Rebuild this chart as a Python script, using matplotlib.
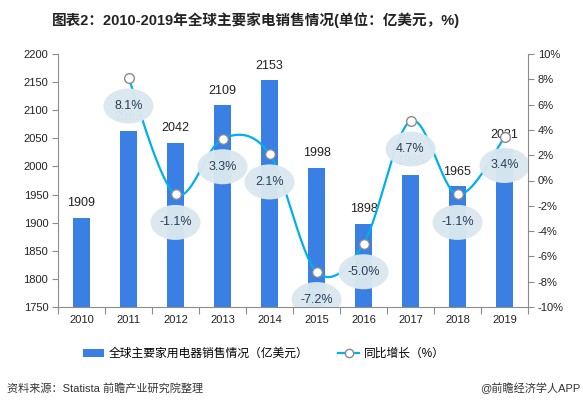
import numpy as np
import matplotlib
matplotlib.use("Agg")
import matplotlib.pyplot as plt
from matplotlib.patches import Ellipse, Patch
from matplotlib.lines import Line2D

plt.rcParams['font.family'] = ['Liberation Sans', 'Noto Sans CJK SC', 'DejaVu Sans']

years = ['2010', '2011', '2012', '2013', '2014', '2015', '2016', '2017', '2018', '2019']
sales = [1909, 2063, 2042, 2109, 2153, 1998, 1898, 1985, 1965, 2031]
growth_years = ['2011', '2012', '2013', '2014', '2015', '2016', '2017', '2018', '2019']
growth = [8.1, -1.1, 3.3, 2.1, -7.2, -5.0, 4.7, -1.1, 3.4]
left_ticks = list(range(1750, 2201, 50))
right_ticks = list(range(-10, 11, 2))

title = '图表2：2010-2019年全球主要家电销售情况(单位：亿美元，%)'
bar_name = '全球主要家用电器销售情况（亿美元）'
line_name = '同比增长（%）'
source = '资料来源：Statista 前瞻产业研究院整理'
credit = '@前瞻经济学人APP'

BAR_C = '#3a80e4'
LINE_C = '#00aff0'
ELL_C = '#dae8f0'
SPINE_C = '#8c8c8c'

fig = plt.figure(figsize=(5.83, 4.08), dpi=100)
ax = fig.add_axes([58/583, 1-307/408, 470/583, 253/408])
ax2 = ax.twinx()

x = np.arange(len(years))
bars = ax.bar(x, sales, width=0.37, color=BAR_C, zorder=2)
ax.set_ylim(1750, 2200)
ax.set_xlim(-0.5, len(years)-0.5)
ax.set_yticks(left_ticks)
ax.set_yticklabels([str(v) for v in left_ticks], fontsize=8, color='#222222')
ax.set_xticks(np.arange(-0.5, len(years), 1.0))
ax.set_xticklabels([])
ax.set_xticks(x, minor=True)
ax.set_xticklabels(years, minor=True, fontsize=8, color='#222222')
ax.tick_params(axis='x', which='major', length=5, color=SPINE_C, direction='out')
ax.tick_params(axis='x', which='minor', length=0, pad=6)
ax.tick_params(axis='y', length=4, color=SPINE_C, direction='out', pad=3)
for s in ['top', 'right']:
    ax.spines[s].set_visible(False)
for s in ['left', 'bottom']:
    ax.spines[s].set_color(SPINE_C)

for xi, v in zip(x, sales):
    ax.annotate(str(v), (xi, v), xytext=(0, 6), textcoords='offset points',
                ha='center', va='bottom', fontsize=9, color='#222222', zorder=3)

ax2.set_ylim(-10, 10)
ax2.set_yticks(right_ticks)
ax2.set_yticklabels([f'{v}%' for v in right_ticks], fontsize=8, color='#222222')
ax2.tick_params(axis='y', length=4, color=SPINE_C, direction='out', pad=3)
for s in ['top', 'left', 'bottom']:
    ax2.spines[s].set_visible(False)
ax2.spines['right'].set_color(SPINE_C)

gx = np.array([years.index(y) for y in growth_years], dtype=float)
gy = np.array(growth, dtype=float)

# Catmull-Rom smoothing for drawing
def catmull(px, py, n=30):
    P = np.column_stack([px, py])
    P = np.vstack([P[0], P, P[-1]])
    out = []
    for i in range(1, len(P)-2):
        p0, p1, p2, p3 = P[i-1], P[i], P[i+1], P[i+2]
        t = np.linspace(0, 1, n)[:, None]
        seg = 0.5*((2*p1) + (-p0+p2)*t + (2*p0-5*p1+4*p2-p3)*t**2 + (-p0+3*p1-3*p2+p3)*t**3)
        out.append(seg if i == 1 else seg[1:])
    out = np.vstack(out)
    return out[:, 0], out[:, 1]

sx, sy = catmull(gx, gy)
ax2.plot(sx, sy, color=LINE_C, lw=1.6, zorder=4)
ax2.plot(gx, gy, 'o', ms=7, mfc='white', mec='#8a8a8a', mew=1.0, zorder=5)

px_per_x = 470/10
px_per_y = 253/20
ew, eh, off = 50/px_per_x, 35/px_per_y, 28/px_per_y
for xi, v in zip(gx, gy):
    e = Ellipse((xi, v-off), ew, eh, facecolor=ELL_C, edgecolor='none', alpha=0.97, zorder=6)
    ax2.add_patch(e)
    ax2.text(xi, v-off, f'{v:.1f}%', ha='center', va='center', fontsize=9,
             color='#2b3d55', zorder=7)

fig.text(256/583, 1-20/408, title, ha='center', va='center', fontsize=10.5,
         fontweight='bold', color='#222222')

handles = [Patch(facecolor=BAR_C, edgecolor='none'),
           Line2D([0], [0], color=LINE_C, lw=1.6, marker='o', ms=6, mfc='white', mec='#8a8a8a')]
fig.legend(handles, [bar_name, line_name], loc='center', bbox_to_anchor=(264/583, 1-354/408),
           ncol=2, frameon=False, fontsize=8.5, handlelength=1.8, handleheight=0.6,
           columnspacing=2.5, handletextpad=0.4)

fig.text(7/583, 1-388/408, source, ha='left', va='center', fontsize=8, color='#333333')
fig.text(580/583, 1-388/408, credit, ha='right', va='center', fontsize=8, color='#333333')

fig.savefig('out.png', dpi=100)
